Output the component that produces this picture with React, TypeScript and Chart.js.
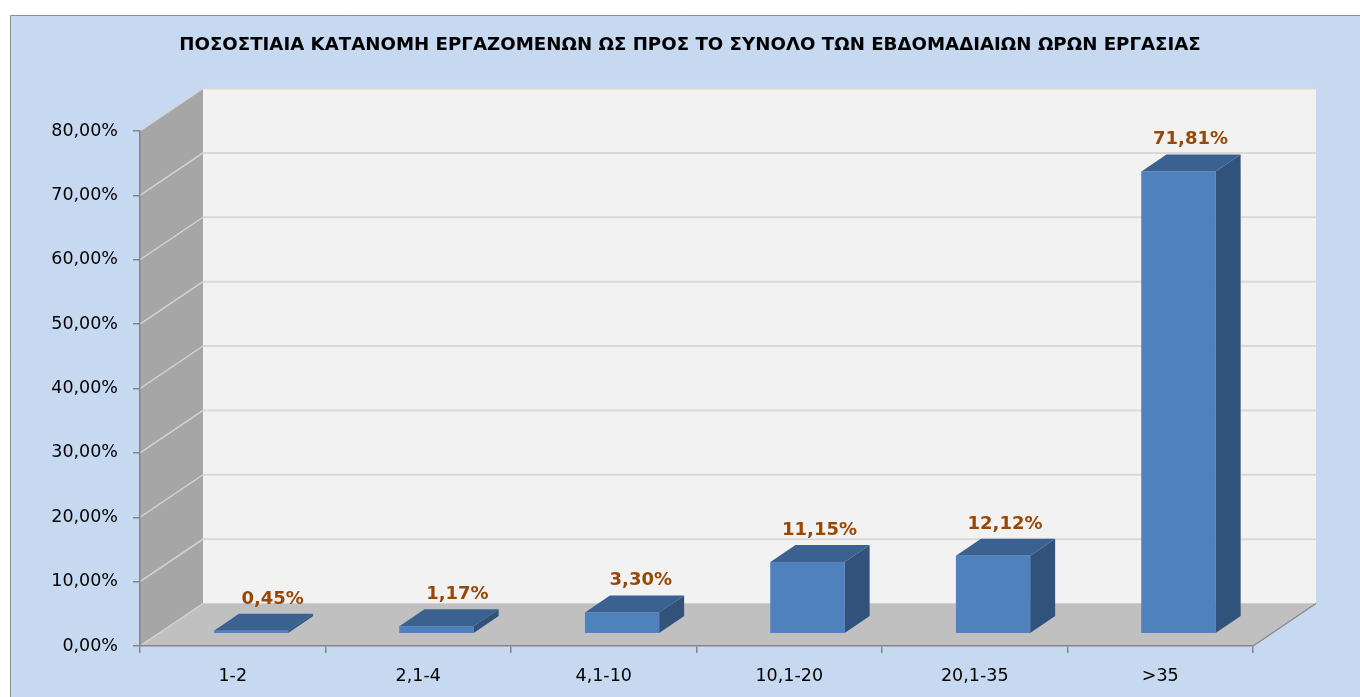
import React, { useEffect, useRef } from 'react';
import { Chart, registerables } from 'chart.js';

Chart.register(...registerables);

const TITLE = 'ΠΟΣΟΣΤΙΑΙΑ ΚΑΤΑΝΟΜΗ ΕΡΓΑΖΟΜΕΝΩΝ ΩΣ ΠΡΟΣ ΤΟ ΣΥΝΟΛΟ ΤΩΝ ΕΒΔΟΜΑΔΙΑΙΩΝ ΩΡΩΝ ΕΡΓΑΣΙΑΣ';
const categories = ['1-2', '2,1-4', '4,1-10', '10,1-20', '20,1-35', '>35'];
const values = [0.45, 1.17, 3.3, 11.15, 12.12, 71.81];
const yMin = 0;
const yMax = 80;
const yStep = 10;

const W = 1360;
const H = 697;
const DX = 63;
const DY = 42.5;
const FONT = 'DejaVu Sans';

const fmt = (v: number) => v.toFixed(2).replace('.', ',') + '%';

const threeD = {
  id: 'threeD',
  beforeDraw(chart: any) {
    const { ctx, chartArea: a, scales } = chart;
    const y = scales.y;
    ctx.save();
    ctx.fillStyle = '#ffffff';
    ctx.fillRect(0, 0, W, H);
    ctx.fillStyle = '#C6D9F1';
    ctx.fillRect(10, 15, W, H);
    ctx.strokeStyle = '#8E8E8E';
    ctx.lineWidth = 1;
    ctx.beginPath();
    ctx.moveTo(10.5, H);
    ctx.lineTo(10.5, 15.5);
    ctx.lineTo(W, 15.5);
    ctx.stroke();

    // side wall
    ctx.fillStyle = '#A6A6A6';
    ctx.beginPath();
    ctx.moveTo(a.left, a.top);
    ctx.lineTo(a.left + DX, a.top - DY);
    ctx.lineTo(a.left + DX, a.bottom - DY);
    ctx.lineTo(a.left, a.bottom);
    ctx.closePath();
    ctx.fill();
    // back wall
    ctx.fillStyle = '#F2F2F2';
    ctx.fillRect(a.left + DX, a.top - DY, a.right - a.left, a.bottom - a.top);
    // floor
    ctx.fillStyle = '#C0C0C0';
    ctx.beginPath();
    ctx.moveTo(a.left, a.bottom);
    ctx.lineTo(a.right, a.bottom);
    ctx.lineTo(a.right + DX, a.bottom - DY);
    ctx.lineTo(a.left + DX, a.bottom - DY);
    ctx.closePath();
    ctx.fill();

    // gridlines
    for (const t of y.ticks) {
      const py = y.getPixelForValue(t.value);
      if (t.value > yMin) {
        ctx.strokeStyle = '#D9D9D9';
        ctx.lineWidth = 2;
        ctx.beginPath();
        ctx.moveTo(a.left + DX, py - DY);
        ctx.lineTo(a.right + DX, py - DY);
        ctx.stroke();
      }
      ctx.strokeStyle = '#D4D4D4';
      ctx.lineWidth = 1.5;
      ctx.beginPath();
      ctx.moveTo(a.left, py);
      ctx.lineTo(a.left + DX, py - DY);
      ctx.stroke();
    }
    // floor right edge
    ctx.strokeStyle = '#8A8A8A';
    ctx.lineWidth = 1.5;
    ctx.beginPath();
    ctx.moveTo(a.right, a.bottom);
    ctx.lineTo(a.right + DX, a.bottom - DY);
    ctx.stroke();

    // title
    ctx.fillStyle = '#000000';
    ctx.font = 'bold 18.2px "' + FONT + '"';
    ctx.textAlign = 'center';
    ctx.textBaseline = 'middle';
    ctx.fillText(TITLE, 690, 45);
    ctx.restore();
  },
  afterDatasetsDraw(chart: any) {
    const { ctx } = chart;
    const meta = chart.getDatasetMeta(0);
    const fx = 18.3;
    const fy = 12.3;
    const bx = 25;
    const by = 17;
    ctx.save();
    meta.data.forEach((bar: any, i: number) => {
      const v = values[i];
      const L = bar.x - bar.width / 2 + fx;
      const R = bar.x + bar.width / 2 + fx;
      const T = bar.y - fy;
      const B = bar.base - fy;
      // side
      ctx.fillStyle = '#31527B';
      ctx.beginPath();
      ctx.moveTo(R, T);
      ctx.lineTo(R + bx, T - by);
      ctx.lineTo(R + bx, B - by);
      ctx.lineTo(R, B);
      ctx.closePath();
      ctx.fill();
      // top
      ctx.fillStyle = '#3B6190';
      ctx.beginPath();
      ctx.moveTo(L, T);
      ctx.lineTo(R, T);
      ctx.lineTo(R + bx, T - by);
      ctx.lineTo(L + bx, T - by);
      ctx.closePath();
      ctx.fill();
      // front
      ctx.fillStyle = '#4F81BD';
      ctx.fillRect(L, T, R - L, B - T);
      ctx.strokeStyle = 'rgba(90,130,190,0.9)';
      ctx.lineWidth = 1;
      ctx.strokeRect(L + 0.5, T + 0.5, R - L - 1, B - T - 1);

      // label
      const off = 12 + 10 * (1 - Math.min(v, 10) / 10);
      ctx.fillStyle = '#974806';
      ctx.font = 'bold 18px "' + FONT + '"';
      ctx.textAlign = 'center';
      ctx.textBaseline = 'alphabetic';
      ctx.fillText(fmt(v), (L + R) / 2 + off, T - 27);
    });
    ctx.restore();
  },
};

export default function App() {
  const ref = useRef<HTMLCanvasElement | null>(null);
  useEffect(() => {
    const canvas = ref.current;
    if (!canvas) return;
    const tickFont = { family: FONT, size: 17.5 };
    const chart = new Chart(canvas, {
      type: 'bar',
      data: {
        labels: categories,
        datasets: [
          {
            data: values,
            backgroundColor: 'rgba(0,0,0,0)',
            borderWidth: 0,
            categoryPercentage: 1,
            barPercentage: 0.4,
          },
        ],
      },
      options: {
        responsive: false,
        animation: false,
        devicePixelRatio: 1,
        layout: { padding: { top: 131, right: 107, left: 0, bottom: 0 } },
        plugins: {
          legend: { display: false },
          title: { display: false },
          tooltip: { enabled: false },
        },
        scales: {
          x: {
            grid: {
              offset: true,
              drawOnChartArea: false,
              drawTicks: true,
              tickLength: 7,
              color: '#868686',
              lineWidth: 1.5,
            },
            border: { color: '#868686', width: 1.5 },
            ticks: { font: tickFont, color: '#000000', padding: 13, maxRotation: 0 },
            afterFit: (s: any) => {
              s.height = 51;
            },
          },
          y: {
            min: yMin,
            max: yMax,
            ticks: {
              stepSize: yStep,
              callback: (v: any) => fmt(Number(v)),
              font: tickFont,
              color: '#000000',
              padding: 15,
            },
            grid: {
              drawOnChartArea: false,
              drawTicks: true,
              tickLength: 7,
              color: '#868686',
              lineWidth: 1.5,
            },
            border: { color: '#868686', width: 1.5 },
            afterFit: (s: any) => {
              s.width = 140;
            },
          },
        },
      },
      plugins: [threeD],
    });
    return () => chart.destroy();
  }, []);
  return (
    <div style={{ position: 'absolute', left: 0, top: 0, width: W, height: H }}>
      <canvas ref={ref} width={W} height={H} style={{ display: 'block' }} />
    </div>
  );
}
